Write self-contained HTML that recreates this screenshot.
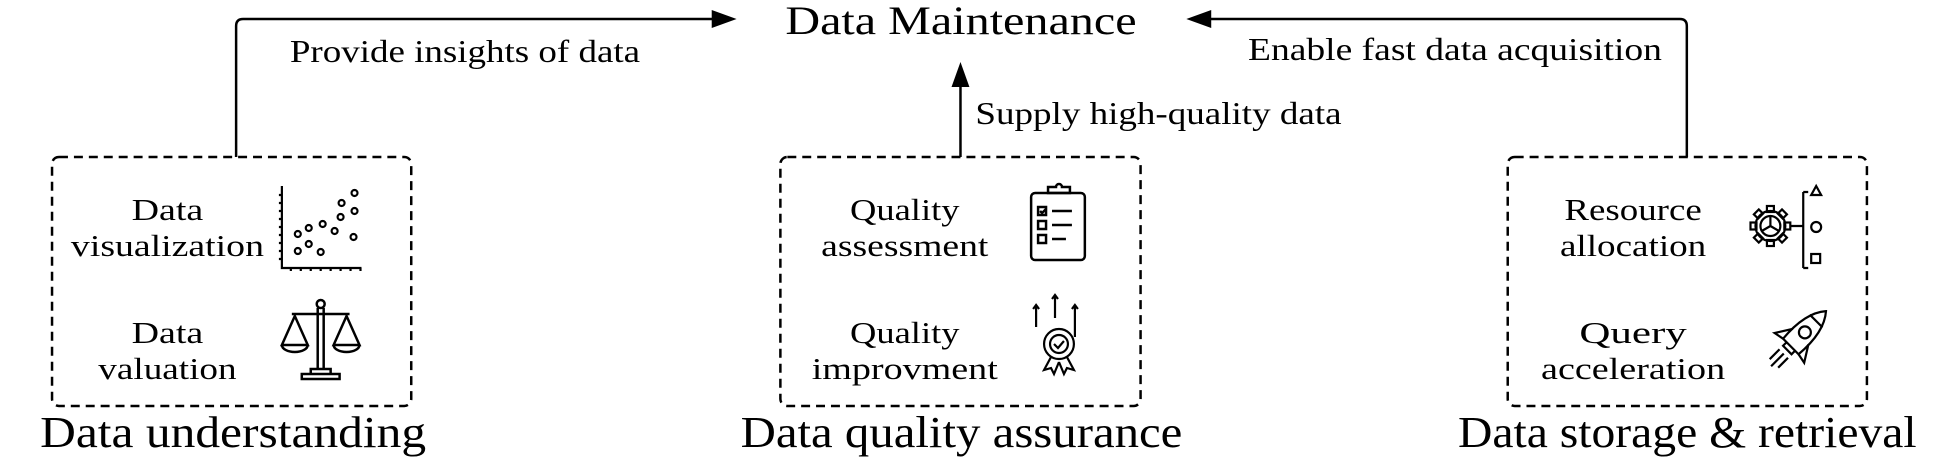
<!DOCTYPE html>
<html><head><meta charset="utf-8"><style>html,body{margin:0;padding:0;background:#fff}svg{display:block}</style></head><body>
<svg width="1947" height="462" viewBox="0 0 1947 462" xmlns="http://www.w3.org/2000/svg" font-family="Liberation Serif, serif" fill="#000">
<g transform="translate(0.3,0) scale(0.995,1)">
<g fill="none" stroke="#000" stroke-width="2.5">
<path d="M237,157 V26 Q237,19 244,19 H718"/>
<path d="M1695,157 V26 Q1695,19 1688,19 H1214"/>
<path d="M965,157 V84"/>
</g>
<path d="M740,19 L715,10 L715,28 Z"/>
<path d="M1192,19 L1217,10 L1217,28 Z"/>
<path d="M965,62 L956,87 L974,87 Z"/>
<g fill="none" stroke="#000" stroke-width="2.5" stroke-dasharray="9,6">
<rect x="52" y="157" width="361" height="249" rx="7"/>
<rect x="784" y="157" width="362" height="249" rx="7"/>
<rect x="1515" y="157" width="361" height="249" rx="7"/>
</g>
<g font-size="40"><text x="789" y="34" textLength="353" lengthAdjust="spacingAndGlyphs">Data Maintenance</text></g>
<g font-size="32">
<text x="291" y="62" textLength="352" lengthAdjust="spacingAndGlyphs">Provide insights of data</text>
<text x="1254" y="60" textLength="416" lengthAdjust="spacingAndGlyphs">Enable fast data acquisition</text>
<text x="980" y="124" textLength="368" lengthAdjust="spacingAndGlyphs">Supply high-quality data</text>
</g>
<g font-size="44">
<text x="40" y="447" textLength="388" lengthAdjust="spacingAndGlyphs">Data understanding</text>
<text x="744" y="447" textLength="444" lengthAdjust="spacingAndGlyphs">Data quality assurance</text>
<text x="1465" y="447" textLength="461" lengthAdjust="spacingAndGlyphs">Data storage &amp; retrieval</text>
</g>
<g font-size="31" text-anchor="middle">
<text x="168" y="220" textLength="72" lengthAdjust="spacingAndGlyphs">Data</text>
<text x="168" y="256" textLength="194" lengthAdjust="spacingAndGlyphs">visualization</text>
<text x="168" y="343" textLength="72" lengthAdjust="spacingAndGlyphs">Data</text>
<text x="168" y="379" textLength="139" lengthAdjust="spacingAndGlyphs">valuation</text>
<text x="909" y="220" textLength="110" lengthAdjust="spacingAndGlyphs">Quality</text>
<text x="909" y="256" textLength="168" lengthAdjust="spacingAndGlyphs">assessment</text>
<text x="909" y="343" textLength="110" lengthAdjust="spacingAndGlyphs">Quality</text>
<text x="909" y="379" textLength="187" lengthAdjust="spacingAndGlyphs">improvment</text>
<text x="1641" y="220" textLength="138" lengthAdjust="spacingAndGlyphs">Resource</text>
<text x="1641" y="256" textLength="147" lengthAdjust="spacingAndGlyphs">allocation</text>
<text x="1641" y="343" textLength="108" lengthAdjust="spacingAndGlyphs">Query</text>
<text x="1641" y="379" textLength="185" lengthAdjust="spacingAndGlyphs">acceleration</text>
</g>
<!-- scatter icon -->
<g fill="none" stroke="#000" stroke-width="2.2">
<path d="M283,186 V268 H363"/>
<path d="M280,195h3M280,203h3M280,211h3M280,219h3M280,227h3M280,235h3M280,243h3M280,251h3M280,259h3"/>
<path d="M292,268v3M302,268v3M312,268v3M322,268v3M332,268v3M342,268v3M352,268v3M362,268v3"/>
<circle cx="299" cy="251" r="3"/><circle cx="299" cy="234" r="3"/><circle cx="310" cy="244" r="3"/><circle cx="310" cy="228" r="3"/>
<circle cx="322" cy="252" r="3"/><circle cx="324" cy="224" r="3"/><circle cx="336" cy="231" r="3"/><circle cx="342" cy="217" r="3"/>
<circle cx="343" cy="203" r="3"/><circle cx="356" cy="193" r="3"/><circle cx="356" cy="211" r="3"/><circle cx="355" cy="237" r="3"/>
</g>
<!-- scale icon -->
<g fill="none" stroke="#000" stroke-width="2.5">
<circle cx="322" cy="304" r="4"/>
<path d="M319,308v61M325,308v61M293,314h58"/>
<path d="M296,316 L283,345 H309 Z M283,345 a13,7 0 0 0 26,0"/>
<path d="M348,316 L335,345 H361 Z M335,345 a13,7 0 0 0 26,0"/>
<path d="M312,369h20v5h-20z M303,374h38v5h-38z"/>
</g>
<!-- clipboard -->
<g fill="none" stroke="#000" stroke-width="2.5">
<rect x="1036" y="193" width="54" height="67" rx="4"/>
<path d="M1053,193 v-6 h8 a3,3 0 0 1 6,0 h8 v6 z"/>
<rect x="1043" y="207" width="8" height="8"/><rect x="1043" y="221" width="8" height="8"/><rect x="1043" y="235" width="8" height="8"/>
<path d="M1057,211h20M1057,225h20M1057,239h14M1045,211l2,2 4,-4"/>
</g>
<!-- award -->
<g fill="none" stroke="#000" stroke-width="2.2">
<path d="M1041,327v-21M1038,309l3,-4 3,4 M1060,318v-22M1057,299l3,-4 3,4 M1080,337v-31M1077,309l3,-4 3,4"/>
<circle cx="1064" cy="344" r="15"/><circle cx="1064" cy="344" r="9"/>
<path d="M1059,344l4,4 6,-7 M1056,357l-7,13 7,-2 3,6 5,-12 M1072,357l7,13 -7,-2 -3,6 -5,-12"/>
</g>
<!-- gear + shapes -->
<g fill="none" stroke="#000" stroke-width="2.2">
<g transform="translate(1779,226)">
<circle r="15"/><circle r="10"/>
<path d="M0,0v-10M0,0l-8.7,5M0,0l8.7,5"/>
<g>
<rect x="-3.5" y="-20" width="7" height="6"/>
<rect x="-3.5" y="-20" width="7" height="6" transform="rotate(45)"/>
<rect x="-3.5" y="-20" width="7" height="6" transform="rotate(90)"/>
<rect x="-3.5" y="-20" width="7" height="6" transform="rotate(135)"/>
<rect x="-3.5" y="-20" width="7" height="6" transform="rotate(180)"/>
<rect x="-3.5" y="-20" width="7" height="6" transform="rotate(225)"/>
<rect x="-3.5" y="-20" width="7" height="6" transform="rotate(270)"/>
<rect x="-3.5" y="-20" width="7" height="6" transform="rotate(315)"/>
</g>
</g>
<path d="M1799,226h13M1812,192v76M1812,192h5M1812,268h5"/>
<path d="M1825,186l-5,9h10z"/><circle cx="1825" cy="227" r="5"/><rect x="1820" y="254" width="9" height="9"/>
</g>
<!-- rocket -->
<g fill="none" stroke="#000" stroke-width="2.2" transform="translate(1808,338) rotate(45)">
<path d="M0,-38 Q14,-22 11,12 L-11,12 Q-14,-22 0,-38 Z"/>
<path d="M-9,-24 H9"/>
<circle cx="0" cy="-8" r="6"/>
<path d="M-11,-2 L-21,14 L-11,12 M11,-2 L21,14 L11,12"/>
<path d="M-6,12 v5 h12 v-5"/>
<path d="M-6,22 v14 M0,22 v18 M6,22 v14"/>
</g>
</g>
</svg>
</body></html>
